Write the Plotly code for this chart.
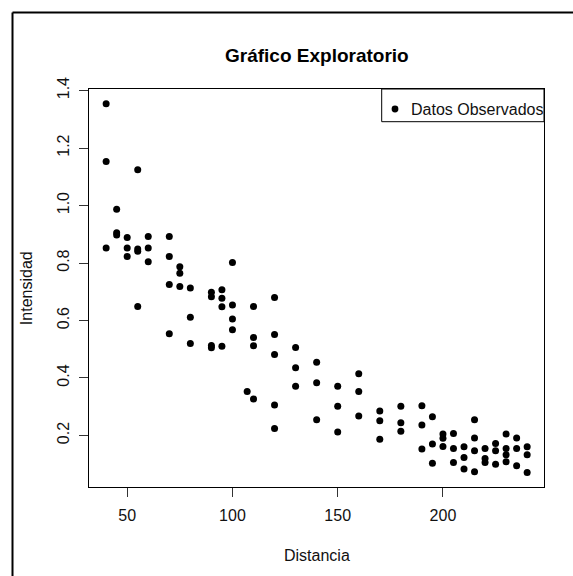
import plotly.graph_objects as go

# ---- data ----
distancia = (
    [40] * 3 + [45] * 3 + [50] * 3 + [55] * 4 + [60] * 3 + [70] * 4 + [75] * 3 +
    [80] * 3 + [90] * 4 + [95] * 4 + [100] * 4 + [107] + [110] * 4 + [120] * 5 +
    [130] * 3 + [140] * 3 + [150] * 3 + [160] * 3 + [170] * 3 + [180] * 3 +
    [190] * 3 + [195] * 3 + [200] * 3 + [205] * 3 + [210] * 3 + [215] * 4 +
    [220] * 3 + [225] * 3 + [230] * 4 + [235] * 3 + [240] * 3
)
intensidad = [
    1.354, 1.153, 0.852,
    0.987, 0.905, 0.897,
    0.889, 0.852, 0.823,
    1.124, 0.849, 0.841, 0.649,
    0.892, 0.852, 0.804,
    0.892, 0.823, 0.725, 0.554,
    0.787, 0.764, 0.718,
    0.713, 0.611, 0.520,
    0.698, 0.683, 0.513, 0.505,
    0.707, 0.677, 0.648, 0.510,
    0.802, 0.654, 0.605, 0.568,
    0.353,
    0.649, 0.541, 0.512, 0.327,
    0.680, 0.551, 0.482, 0.306, 0.224,
    0.506, 0.436, 0.371,
    0.455, 0.383, 0.255,
    0.371, 0.302, 0.212,
    0.415, 0.353, 0.268,
    0.285, 0.251, 0.187,
    0.302, 0.244, 0.215,
    0.303, 0.236, 0.153,
    0.265, 0.170, 0.103,
    0.205, 0.190, 0.162,
    0.207, 0.155, 0.106,
    0.161, 0.123, 0.083,
    0.255, 0.191, 0.147, 0.074,
    0.155, 0.120, 0.106,
    0.172, 0.147, 0.100,
    0.205, 0.155, 0.133, 0.109,
    0.191, 0.155, 0.095,
    0.161, 0.133, 0.071,
]
x_ticks = [50, 100, 150, 200]
y_ticks = [0.2, 0.4, 0.6, 0.8, 1.0, 1.2, 1.4]
title_text = "Gráfico Exploratorio"
x_label = "Distancia"
y_label = "Intensidad"
legend_label = "Datos Observados"

W, H = 573, 576
FONT = "Liberation Sans, Arial, sans-serif"
TXT = "#111111"


def px_x(p):
    return p / W


def px_y(p):
    return 1 - p / H


def ext(vals):
    lo, hi = min(vals), max(vals)
    d = (hi - lo) * 0.04
    return [lo - d, hi + d]


# plot region in pixels
L, R, T, B = 89.3, 544.0, 89.0, 487.3

fig = go.Figure()
fig.add_trace(go.Scatter(
    x=distancia, y=intensidad, mode="markers",
    marker=dict(color="black", size=7, line=dict(width=0)),
    name=legend_label, showlegend=False, hoverinfo="x+y",
))

axis_common = dict(
    showgrid=False, zeroline=False, showline=True, linecolor="black",
    linewidth=1, mirror=True, ticks="outside", ticklen=9, tickwidth=1,
    tickcolor="#333333", tickfont=dict(family=FONT, size=16, color=TXT),
)

fig.update_layout(
    width=W, height=H,
    margin=dict(l=0, r=0, t=0, b=0, autoexpand=False),
    paper_bgcolor="white", plot_bgcolor="white",
    xaxis=dict(domain=[px_x(L), px_x(R)], range=ext(distancia),
               tickvals=x_ticks, ticktext=[str(v) for v in x_ticks],
               ticklabelstandoff=4, **axis_common),
    yaxis=dict(domain=[px_y(B), px_y(T)], range=ext(intensidad),
               tickvals=y_ticks, ticktext=[f"{v:.1f}" for v in y_ticks],
               tickangle=-90, ticklabelstandoff=4, **axis_common),
    showlegend=False,
)

# title
fig.add_annotation(text=title_text, xref="paper", yref="paper",
                   x=px_x((L + R) / 2), y=px_y(56), xanchor="center", yanchor="middle",
                   showarrow=False,
                   font=dict(family=FONT, size=19, color="black", weight="bold"))
# axis titles
fig.add_annotation(text=x_label, xref="paper", yref="paper",
                   x=px_x((L + R) / 2), y=px_y(555), xanchor="center", yanchor="middle",
                   showarrow=False, font=dict(family=FONT, size=16, color=TXT))
fig.add_annotation(text=y_label, xref="paper", yref="paper",
                   x=px_x(26), y=px_y((T + B) / 2), xanchor="center", yanchor="middle",
                   textangle=-90, showarrow=False, font=dict(family=FONT, size=16, color=TXT))

# legend (R-style boxed, top-right)
LG_L, LG_T, LG_B = 381.7, T, 121.7
fig.add_shape(type="rect", xref="paper", yref="paper",
              x0=px_x(LG_L), x1=px_x(R), y0=px_y(LG_B), y1=px_y(LG_T),
              line=dict(color="black", width=1), fillcolor="white", layer="above")
r = 3.4
fig.add_shape(type="circle", xref="paper", yref="paper",
              x0=px_x(395 - r), x1=px_x(395 + r), y0=px_y(109 + r), y1=px_y(109 - r),
              line=dict(width=0), fillcolor="black", layer="above")
fig.add_annotation(text=legend_label, xref="paper", yref="paper",
                   x=px_x(408.5), y=px_y(109), xanchor="left", yanchor="middle",
                   showarrow=False, font=dict(family=FONT, size=16, color=TXT))

# outer frame (left and top edges visible)
fig.add_shape(type="line", xref="paper", yref="paper",
              x0=px_x(12.5), x1=px_x(12.5), y0=-0.05, y1=px_y(12.5),
              line=dict(color="black", width=2))
fig.add_shape(type="line", xref="paper", yref="paper",
              x0=px_x(12.5), x1=1.05, y0=px_y(12.5), y1=px_y(12.5),
              line=dict(color="black", width=2))

fig.write_html("out.html")
